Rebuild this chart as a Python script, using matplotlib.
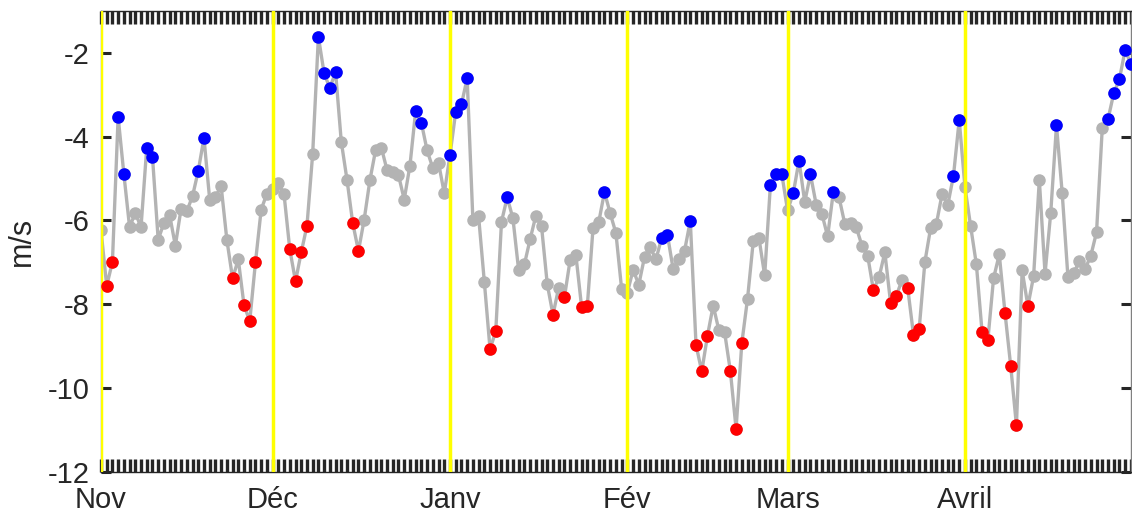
import matplotlib
matplotlib.use("Agg")
import matplotlib.pyplot as plt
import numpy as np

plt.rcParams['font.family'] = ['Liberation Sans', 'DejaVu Sans']

# vent journalier (m/s), du 1er novembre au 30 avril
vals = [
    -6.22, -7.56, -6.99, -3.53, -4.89, -6.16, -5.82, -6.16, -4.26, -4.48,
    -6.46, -6.06, -5.87, -6.60, -5.72, -5.78, -5.42, -4.82, -4.03, -5.50,
    -5.44, -5.18, -6.46, -7.38, -6.93, -8.02, -8.40, -7.00, -5.74, -5.36,
    -5.25, -5.10, -5.38, -6.69, -7.45, -6.76, -6.13, -4.41, -1.62, -2.49,
    -2.84, -2.46, -4.12, -5.03, -6.06, -6.73, -5.98, -5.04, -4.32, -4.26,
    -4.80, -4.84, -4.92, -5.50, -4.69, -3.39, -3.67, -4.33, -4.75, -4.63,
    -5.35, -4.44, -3.41, -3.23, -2.61, -5.98, -5.90, -7.46, -9.07, -8.64,
    -6.03, -5.45, -5.95, -7.19, -7.05, -6.45, -5.89, -6.14, -7.52, -8.25,
    -7.60, -7.83, -6.94, -6.82, -8.06, -8.04, -6.18, -6.04, -5.32, -5.83,
    -6.30, -7.64, -7.72, -7.18, -7.53, -6.87, -6.64, -6.93, -6.41, -6.34,
    -7.16, -6.91, -6.72, -6.01, -8.97, -9.60, -8.75, -8.03, -8.62, -8.67,
    -9.59, -10.97, -8.93, -7.87, -6.50, -6.42, -7.31, -5.15, -4.89, -4.90,
    -5.76, -5.35, -4.57, -5.56, -4.90, -5.62, -5.84, -6.38, -5.32, -5.45,
    -6.08, -6.06, -6.16, -6.60, -6.84, -7.66, -7.35, -6.76, -7.96, -7.80,
    -7.42, -7.61, -8.72, -8.59, -6.99, -6.18, -6.09, -5.37, -5.63, -4.93,
    -3.60, -5.20, -6.14, -7.05, -8.67, -8.86, -7.38, -6.81, -8.20, -9.47,
    -10.89, -7.19, -8.04, -7.33, -5.03, -7.27, -5.81, -3.73, -5.35, -7.35,
    -7.26, -6.97, -7.16, -6.84, -6.28, -3.80, -3.59, -2.97, -2.63, -1.93,
    -2.27,
]

# jours marqués en bleu (fort) et en rouge (faible)
jours_bleus = [3, 4, 8, 9, 17, 18, 38, 39, 40, 41, 55, 56, 61, 62, 63, 64, 71,
               88, 98, 99, 103, 117, 118, 119, 121, 122, 124, 128, 149, 150,
               167, 176, 177, 178, 179, 180]
jours_rouges = [1, 2, 23, 25, 26, 27, 33, 34, 35, 36, 44, 45, 68, 69, 79, 81,
                84, 85, 104, 105, 106, 110, 111, 112, 135, 138, 139, 141, 142,
                143, 154, 155, 158, 159, 160, 162]

mois = ['Nov', 'Déc', 'Janv', 'Fév', 'Mars', 'Avril']
debut_mois = [0, 30, 61, 92, 120, 151]

jours = np.arange(len(vals))
v = np.array(vals)

fig = plt.figure(figsize=(11.32, 5.17), dpi=100)
ax = fig.add_axes([0.0892, 0.087, 0.9098, 0.892])

ax.plot(jours, v, '-o', color=(0.7, 0.7, 0.7), lw=2.4, ms=8, zorder=2)
for d in debut_mois:
    ax.axvline(d, color=(1, 1, 0), lw=2.5, zorder=3)
ax.plot(jours[jours_bleus], v[jours_bleus], 'o', color='b', ms=8, zorder=4)
ax.plot(jours[jours_rouges], v[jours_rouges], 'o', color='r', ms=8, zorder=4)

ax.set_xlim(0, 180)
ax.set_ylim(-12, -1)
ax.set_xticks(debut_mois)
ax.set_xticklabels(mois)
ax.set_xticks(jours, minor=True)
ax.set_yticks([-12, -10, -8, -6, -4, -2])
ax.set_yticklabels(['-12', '-10', '-8', '-6', '-4', '-2'])

ax.tick_params(axis='x', which='both', direction='in', top=True, bottom=True,
               length=9.5, width=2.4, color='0.15', labelsize=21, pad=10,
               labelcolor='0.15')
ax.tick_params(axis='y', which='major', direction='in', left=True, right=True,
               length=7.5, width=2.2, color='0.15', labelsize=21, pad=8,
               labelcolor='0.15')
for s in ax.spines.values():
    s.set_color('0.5')
    s.set_linewidth(1)
ax.spines['top'].set_color('0.15')
ax.spines['bottom'].set_color('0.15')

ax.set_ylabel('m/s', fontsize=22, color='0.15', labelpad=8)

fig.savefig('out.png', dpi=100)
